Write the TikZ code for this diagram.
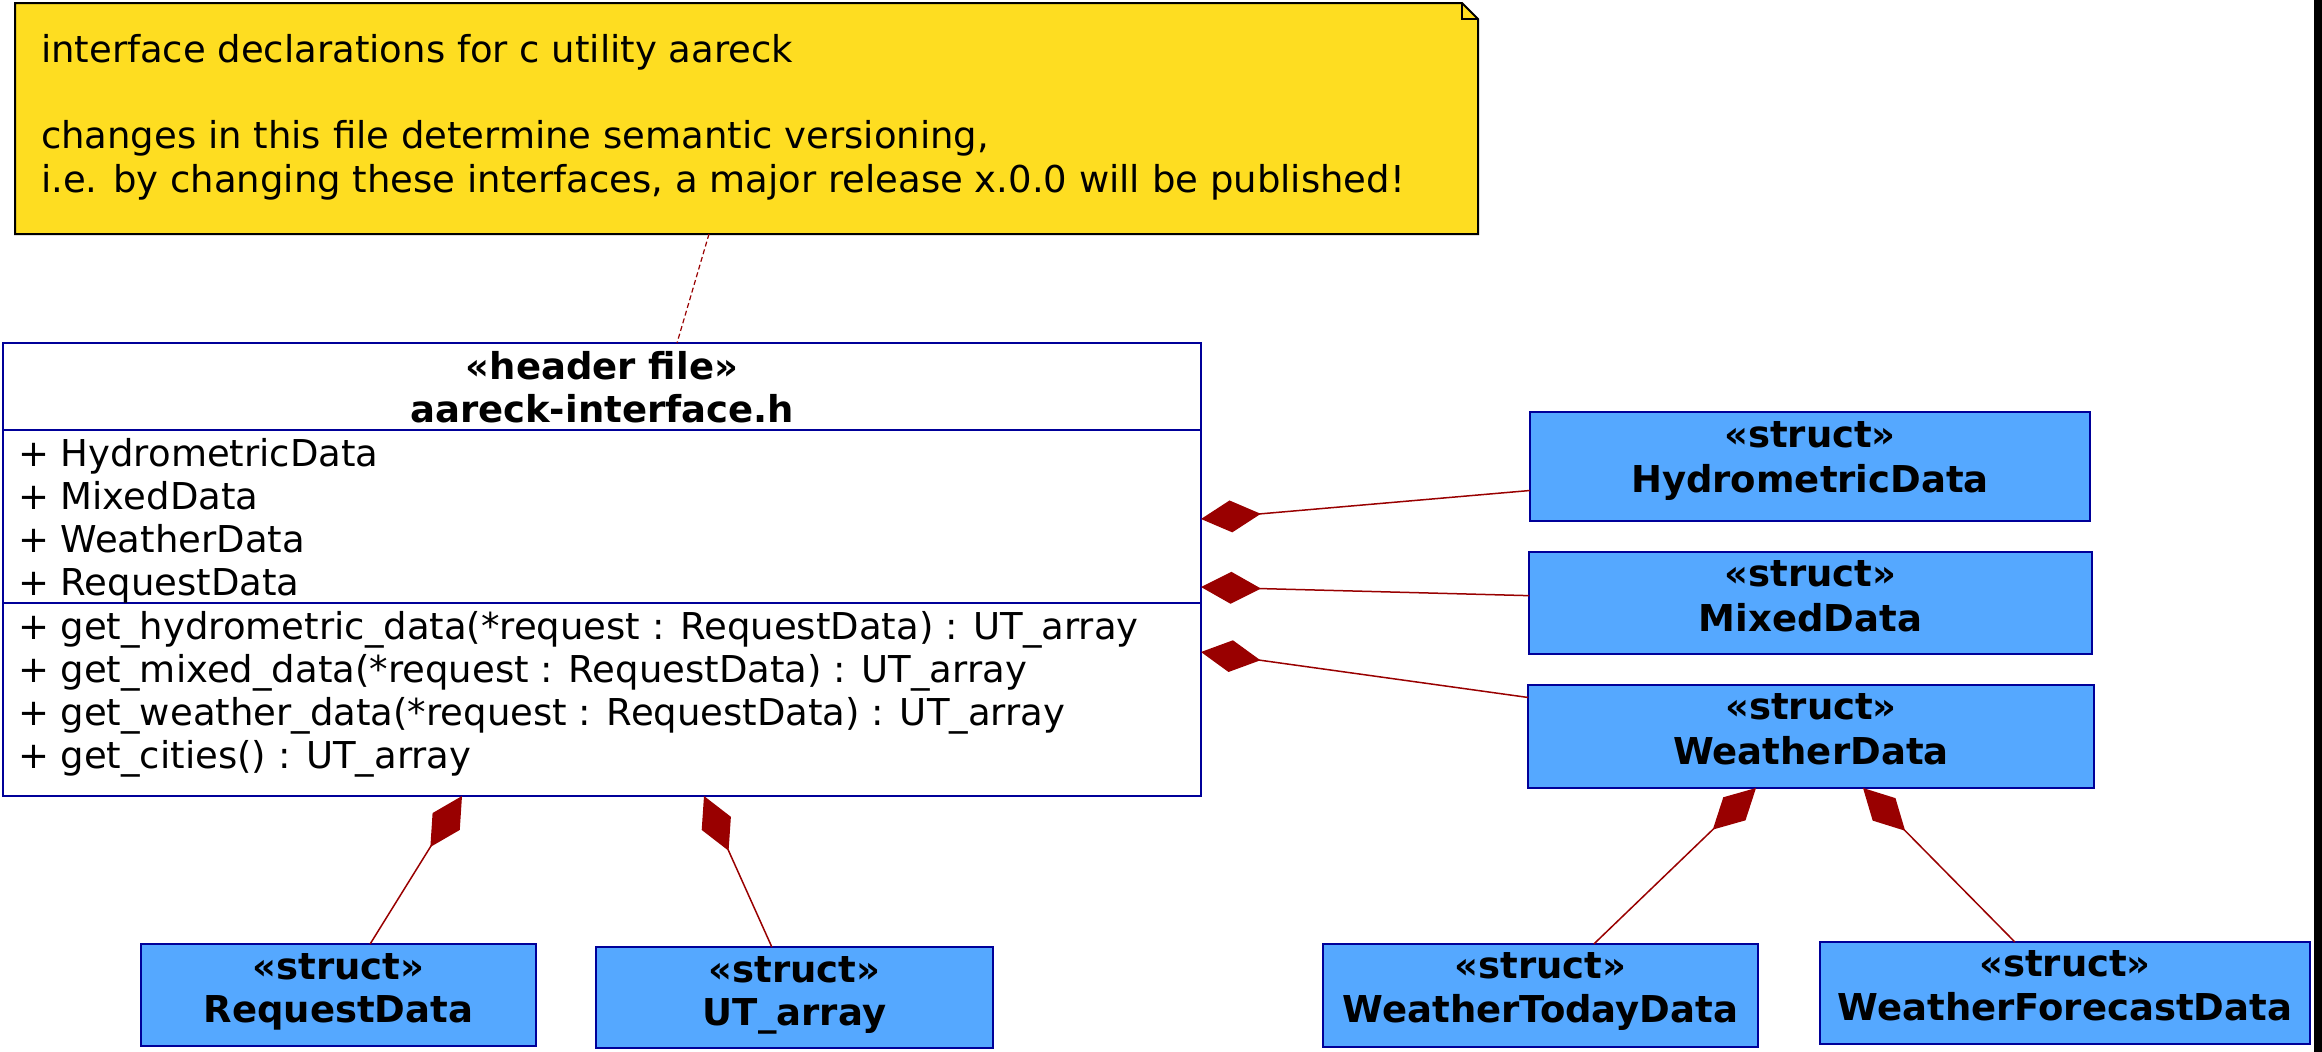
\documentclass[tikz,border=0pt]{standalone}
\usepackage{fontspec}
\setmainfont{DejaVu Sans}
\usetikzlibrary{arrows.meta,calc}
\definecolor{notey}{RGB}{254,221,33}
\definecolor{sblue}{RGB}{85,168,255}
\definecolor{navy}{RGB}{0,0,153}
\definecolor{dred}{RGB}{153,0,0}
\begin{document}
\begin{tikzpicture}[x=1pt,y=-1pt,
  txt/.style={inner sep=0pt, outer sep=0pt, font=\fontsize{37}{44}\selectfont},
  btxt/.style={inner sep=0pt, outer sep=0pt, font=\fontsize{37}{44}\selectfont\bfseries},
  structbox/.style={draw=navy, fill=sblue, line width=2pt, inner sep=0pt, outer sep=0pt},
  hdrbox/.style={draw=navy, fill=white, line width=2pt, inner sep=0pt, outer sep=0pt},
  comp/.style={draw=dred, line width=1.5pt, -{Diamond[length=60pt,width=32pt,fill=dred]}},
  notelink/.style={draw=dred, line width=1.2pt, dash pattern=on 5pt off 3pt}
  ]
\fill[white] (0,0) rectangle (2322,1052);
\useasboundingbox (0,0) rectangle (2322,1052);
\fill[black] (2314,0) rectangle (2322,1052);

% note
\node[minimum width=1463pt, minimum height=231pt, inner sep=0pt, outer sep=0pt] (note) at (746.5,118.5) {};
\draw[fill=notey, line width=2pt, line join=miter]
  (note.north west) -- ($(note.north east)+(-16,0)$) -- ($(note.north east)+(0,16)$)
  -- (note.south east) -- (note.south west) -- cycle;
\draw[line width=2pt] ($(note.north east)+(-16,0)$) -- ($(note.north east)+(-16,16)$) -- ($(note.north east)+(0,16)$);
\node[txt, anchor=base west] (n1) at (41,62) {interface declarations for c utility aareck};
\node[txt, anchor=base west] (n2) at (41,148) {changes in this file determine semantic versioning,};
\node[txt, anchor=base west] (n3) at (41,192) {i.e. by changing these interfaces, a major release x.0.0 will be published!};

% header file box
\node[hdrbox, minimum width=1198pt, minimum height=453pt] (hdr) at (602,569.5) {};
\draw[navy, line width=2pt] ($(hdr.north west)+(0,87)$) -- ($(hdr.north east)+(0,87)$);
\draw[navy, line width=2pt] ($(hdr.north west)+(0,260)$) -- ($(hdr.north east)+(0,260)$);
\node[btxt, anchor=base] (h1) at (602,379) {«header file»};
\node[btxt, anchor=base] (h2) at (602,422) {aareck-interface.h};
\node[txt, anchor=base west] (a1) at (18,466) {+ HydrometricData};
\node[txt, anchor=base west] (a2) at (18,509) {+ MixedData};
\node[txt, anchor=base west] (a3) at (18,552) {+ WeatherData};
\node[txt, anchor=base west] (a4) at (18,595) {+ RequestData};
\node[txt, anchor=base west] (m1) at (18,639) {+ get\_hydrometric\_data(*request : RequestData) : UT\_array};
\node[txt, anchor=base west] (m2) at (18,682) {+ get\_mixed\_data(*request : RequestData) : UT\_array};
\node[txt, anchor=base west] (m3) at (18,725) {+ get\_weather\_data(*request : RequestData) : UT\_array};
\node[txt, anchor=base west] (m4) at (18,768) {+ get\_cities() : UT\_array};

% structs
\node[structbox, minimum width=560pt, minimum height=109pt] (hyd) at (1810,466.5) {};
\node[btxt, anchor=base] (hyd-s) at ($(hyd.north)+(0,35)$) {«struct»};
\node[btxt, anchor=base] (hyd-n) at ($(hyd.north)+(0,80)$) {HydrometricData};

\node[structbox, minimum width=563pt, minimum height=102pt] (mix) at (1810.5,603) {};
\node[btxt, anchor=base] (mix-s) at ($(mix.north)+(0,34)$) {«struct»};
\node[btxt, anchor=base] (mix-n) at ($(mix.north)+(0,79)$) {MixedData};

\node[structbox, minimum width=566pt, minimum height=103pt] (wea) at (1811,736.5) {};
\node[btxt, anchor=base] (wea-s) at ($(wea.north)+(0,34)$) {«struct»};
\node[btxt, anchor=base] (wea-n) at ($(wea.north)+(0,79)$) {WeatherData};

\node[structbox, minimum width=395pt, minimum height=102pt] (req) at (338.5,995) {};
\node[btxt, anchor=base] (req-s) at ($(req.north)+(0,35)$) {«struct»};
\node[btxt, anchor=base] (req-n) at ($(req.north)+(0,78)$) {RequestData};

\node[structbox, minimum width=397pt, minimum height=101pt] (uta) at (794.5,997.5) {};
\node[btxt, anchor=base] (uta-s) at ($(uta.north)+(0,35)$) {«struct»};
\node[btxt, anchor=base] (uta-n) at ($(uta.north)+(0,78)$) {UT\_array};

\node[structbox, minimum width=435pt, minimum height=103pt] (wtd) at (1540.5,995.5) {};
\node[btxt, anchor=base] (wtd-s) at ($(wtd.north)+(0,34)$) {«struct»};
\node[btxt, anchor=base] (wtd-n) at ($(wtd.north)+(0,78)$) {WeatherTodayData};

\node[structbox, minimum width=490pt, minimum height=102pt] (wfc) at (2065,993) {};
\node[btxt, anchor=base] (wfc-s) at ($(wfc.north)+(0,34)$) {«struct»};
\node[btxt, anchor=base] (wfc-n) at ($(wfc.north)+(0,78)$) {WeatherForecastData};

% connectors
\draw[notelink] ($(note.south west)+(694,0)$) -- ($(hdr.north west)+(674,0)$);
\draw[comp] (hyd) -- ($(hdr.north east)+(0,176)$);
\draw[comp] (mix) -- ($(hdr.north east)+(0,244)$);
\draw[comp] (wea) -- ($(hdr.north east)+(0,309)$);
\draw[comp] (req) -- ($(hdr.south west)+(459,0)$);
\draw[comp] (uta) -- ($(hdr.south west)+(701,0)$);
\draw[comp] (wtd) -- ($(wea.south west)+(228,0)$);
\draw[comp] (wfc) -- ($(wea.south west)+(335,0)$);
\end{tikzpicture}
\end{document}
